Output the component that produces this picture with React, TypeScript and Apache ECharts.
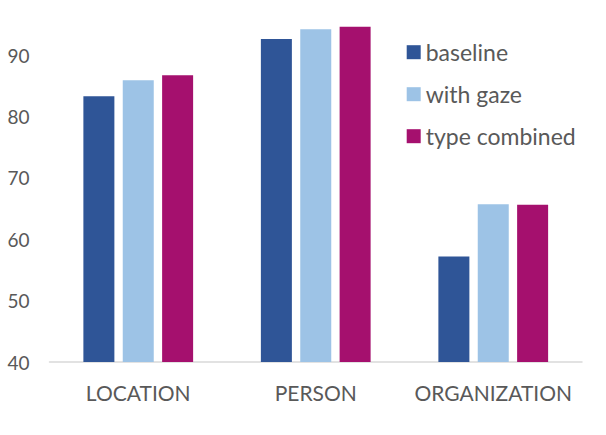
import React, { useEffect, useRef } from "react";
import * as echarts from "echarts";

const categories = ["LOCATION", "PERSON", "ORGANIZATION"];
const seriesNames = ["baseline", "with gaze", "type combined"];
const baseline = [83.3, 92.6, 57.2];
const withGaze = [85.9, 94.2, 65.7];
const typeCombined = [86.7, 94.6, 65.6];
const colors = ["#2F5597", "#9DC3E6", "#A5106E"];

export default function App() {
  const ref = useRef<HTMLDivElement>(null);
  useEffect(() => {
    document.body.style.margin = "0";
    const chart = echarts.init(ref.current!, null, { renderer: "svg" });
    const font = "Lato, 'Liberation Sans', sans-serif";
    const data = [baseline, withGaze, typeCombined];
    chart.setOption({
      animation: false,
      backgroundColor: "#ffffff",
      textStyle: { fontFamily: font },
      grid: { left: 49.5, right: 24, top: 24.3, bottom: 73 },
      legend: {
        orient: "vertical",
        left: 401.7,
        top: 35.7,
        itemWidth: 14,
        itemHeight: 14,
        itemGap: 19,
        icon: "rect",
        data: seriesNames,
        textStyle: { fontFamily: font, fontSize: 23, color: "#595959", lineHeight: 22 },
      },
      xAxis: {
        type: "category",
        data: categories,
        axisLine: { lineStyle: { color: "#D9D9D9", width: 1.5 } },
        axisTick: { show: false },
        axisLabel: { fontFamily: font, fontSize: 21, color: "#595959", margin: 20, interval: 0 },
      },
      yAxis: {
        type: "value",
        min: 40,
        max: 95,
        interval: 10,
        splitLine: { show: false },
        axisLine: { show: false },
        axisTick: { show: false },
        axisLabel: {
          fontFamily: font,
          fontSize: 19,
          color: "#595959",
          margin: 20,
          showMaxLabel: false,
        },
      },
      series: seriesNames.map((name, i) => ({
        name,
        type: "bar",
        data: data[i],
        barWidth: 31,
        barGap: "27%",
        itemStyle: { color: colors[i] },
      })),
    });
    return () => chart.dispose();
  }, []);
  return <div ref={ref} style={{ width: 606, height: 435 }} />;
}
